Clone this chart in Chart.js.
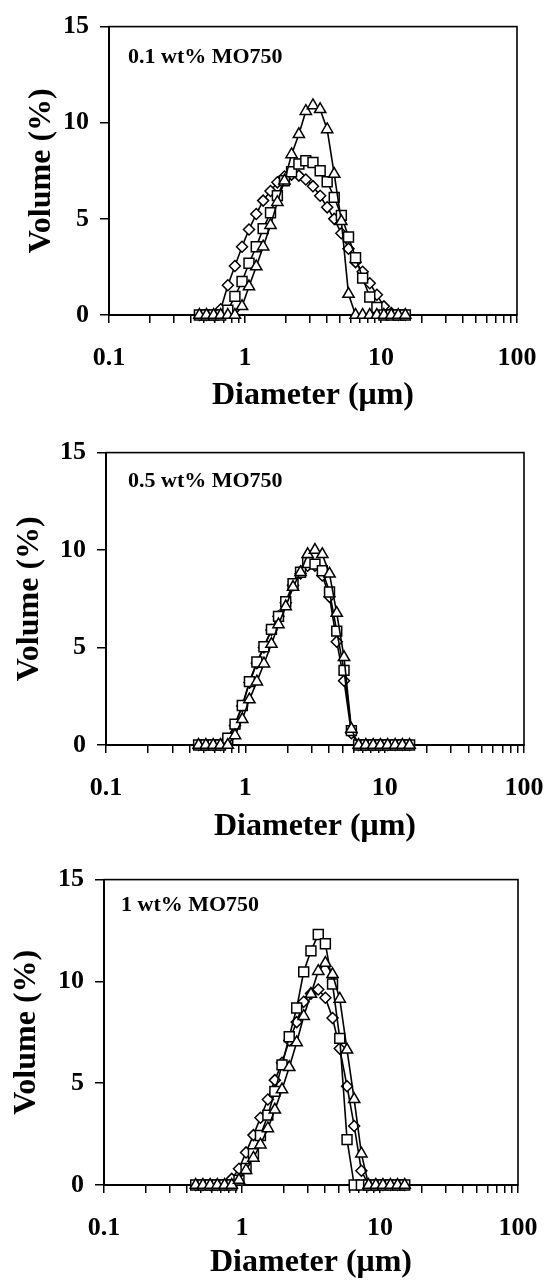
<!DOCTYPE html>
<html><head><meta charset="utf-8">
<script src="https://cdn.jsdelivr.net/npm/chart.js@4.4.1/dist/chart.umd.min.js"></script>
<style>
html,body{margin:0;padding:0;background:#fff;}
#wrap{position:relative;width:544px;height:1280px;overflow:hidden;}
canvas{position:absolute;left:0;}
</style></head><body>
<div id="wrap">
<canvas id="c1" width="544" height="426" style="top:0px"></canvas>
<canvas id="c2" width="544" height="427" style="top:426px"></canvas>
<canvas id="c3" width="544" height="427" style="top:853px"></canvas>
</div>
<script>
// ---- data ----
const diameters = [0.462,0.521,0.588,0.663,0.748,0.843,0.951,1.07,1.21,1.36,1.54,1.73,1.95,2.20,2.49,2.80,3.16,3.57,4.02,4.53,5.11,5.77,6.50,7.33,8.27,9.33,10.5,11.9,13.4,15.1];

const p1Triangles = [0,0,0,0,0,0,0.45,1.48,2.52,3.55,4.67,5.87,6.98,8.35,9.4,10.6,10.9,10.7,9.65,7.33,4.87,1.09,0,0,0,0,0,0,0,0];
const p1Squares   = [0,0,0,0,0.25,0.97,1.74,2.69,3.55,4.49,5.32,6.21,6.98,7.45,7.85,8.02,7.93,7.5,6.93,6.12,5.18,4.06,2.98,1.92,0.94,0.39,0,0,0,0];
const p1Diamonds  = [0,0,0,0.3,1.55,2.55,3.55,4.45,5.25,5.95,6.45,6.9,7.2,7.3,7.25,7.05,6.7,6.2,5.6,5.0,4.25,3.45,2.75,2.25,1.65,1.05,0.45,0.1,0,0];

const p2Triangles = [0,0,0,0,0,0.49,1.32,2.33,3.25,4.17,5.18,6.18,7.1,8.1,8.86,9.78,10.0,9.78,8.78,6.77,4.5,0.82,0,0,0,0,0,0,0,0];
const p2Squares   = [0,0,0,0,0.35,1.07,2.03,3.25,4.26,5.04,5.93,6.6,7.35,8.28,8.86,9.36,9.28,8.94,7.85,5.84,3.83,0.74,0,0,0,0,0,0,0,0];
const p2Diamonds  = [0,0,0,0,0.3,1.0,2.0,3.2,4.2,5.0,5.9,6.6,7.3,8.2,8.8,9.2,9.2,8.7,7.6,5.3,3.3,0.6,0,0,0,0,0,0,0,0];

const p3Triangles = [0,0,0,0,0,0,0.24,0.73,1.33,1.98,2.78,3.69,4.69,5.78,7.0,8.29,9.38,10.5,10.9,10.35,9.14,6.64,4.21,1.54,0,0,0,0,0,0];
const p3Squares   = [0,0,0,0,0,0,0.24,0.81,1.54,2.43,3.43,4.6,5.9,7.28,8.69,10.47,11.5,12.3,11.85,9.87,7.2,2.23,0,0,0,0,0,0,0,0];
const p3Diamonds  = [0,0,0,0,0,0.3,0.8,1.6,2.45,3.3,4.2,5.15,6.0,7.1,8.0,9.0,9.4,9.6,9.2,8.2,6.7,4.85,2.9,0.7,0,0,0,0,0,0];

const panelNotes = ['0.1 wt% MO750', '0.5 wt% MO750', '1 wt% MO750'];

const xLabelValues = [0.1, 1, 10, 100];
const xLabelTexts  = ['0.1', '1', '10', '100'];
const xMinorMultipliers = [2, 3, 4, 5, 6, 7, 8, 9];
const yTickValues  = [0, 5, 10, 15];
const xTitle = 'Diameter (\u03bcm)';
const yTitle = 'Volume (%)';

// ---- rendering ----
const FONT = "'Liberation Serif','Times New Roman',serif";
const xTickValues = [];
xLabelValues.forEach((d, i) => {
  xTickValues.push(d);
  if (i < xLabelValues.length - 1) xMinorMultipliers.forEach(m => xTickValues.push(d * m));
});

const framePlugin = {
  id: 'frame',
  beforeDatasetsDraw(chart) {
    const {ctx, chartArea: a} = chart;
    ctx.save();
    ctx.strokeStyle = '#000';
    ctx.lineWidth = 1.6;
    ctx.strokeRect(a.left, a.top, a.right - a.left, a.bottom - a.top);
    ctx.restore();
  }
};
const notePlugin = {
  id: 'note',
  afterDatasetsDraw(chart, args, opts) {
    const {ctx, chartArea: a} = chart;
    ctx.save();
    ctx.font = 'bold 22px ' + FONT;
    ctx.fillStyle = '#000';
    ctx.textBaseline = 'middle';
    ctx.textAlign = 'left';
    ctx.fillText(opts.text, a.left + opts.dx, a.top + opts.dy);
    ctx.restore();
  }
};

function makeChart(id, note, tri, sq, dia, L) {
  const pts = ys => diameters.map((x, i) => ({x: x, y: ys[i]}));
  const common = {borderColor: '#000', borderWidth: 1.6, pointBackgroundColor: '#fff',
    pointBorderColor: '#000', pointBorderWidth: 1.5, tension: 0, fill: false, clip: false};
  new Chart(document.getElementById(id), {
    type: 'line',
    data: {datasets: [
      Object.assign({}, common, {label: 'triangles', data: pts(tri), pointStyle: 'triangle', pointRadius: 6.5}),
      Object.assign({}, common, {label: 'squares', data: pts(sq), pointStyle: 'rect', pointRadius: 7}),
      Object.assign({}, common, {label: 'diamonds', data: pts(dia), pointStyle: 'rectRot', pointRadius: 5.5})
    ]},
    options: {
      responsive: false, animation: false, devicePixelRatio: 1,
      layout: {padding: {top: L.top, right: L.right, left: 0, bottom: 0}},
      plugins: {legend: {display: false}, tooltip: {enabled: false},
        note: {text: note, dx: L.noteDx, dy: L.noteDy}},
      scales: {
        x: {
          type: 'logarithmic', min: 0.1, max: 100,
          afterBuildTicks: s => { s.ticks = xTickValues.map(v => ({value: v})); },
          afterFit: s => { s.height = L.xH; },
          ticks: {autoSkip: false, maxRotation: 0, minRotation: 0, padding: 0, color: '#000',
            font: {family: FONT, weight: 'bold', size: 26, lineHeight: 2.69},
            callback: v => {
              const i = xLabelValues.findIndex(t => Math.abs(t - v) < t * 1e-6);
              return i >= 0 ? xLabelTexts[i] : '';
            }},
          grid: {display: true, drawOnChartArea: false, drawTicks: true, tickLength: 8, color: '#000', lineWidth: 1.5},
          border: {display: true, color: '#000', width: 2},
          title: {display: true, text: xTitle, color: '#000',
            font: {family: FONT, weight: 'bold', size: 32, lineHeight: 1},
            padding: {top: 0, bottom: L.xTitlePad}}
        },
        y: {
          min: 0, max: 15,
          afterBuildTicks: s => { s.ticks = yTickValues.map(v => ({value: v})); },
          afterFit: s => { s.width = L.yW; },
          ticks: {padding: 11, color: '#000', font: {family: FONT, weight: 'bold', size: 26, lineHeight: 1.2},
            callback: v => String(v)},
          grid: {display: true, drawOnChartArea: false, drawTicks: true, tickLength: 9, color: '#000', lineWidth: 1.5},
          border: {display: true, color: '#000', width: 2},
          title: {display: true, text: yTitle, color: '#000',
            font: {family: FONT, weight: 'bold', size: 32, lineHeight: 1},
            padding: {top: L.yTitlePad, bottom: 0}}
        }
      }
    },
    plugins: [framePlugin, notePlugin]
  });
}

makeChart('c1', panelNotes[0], p1Triangles, p1Squares, p1Diamonds,
  {top: 24, right: 27, yW: 109, xH: 111, xTitlePad: 14, yTitlePad: 26, noteDx: 19, noteDy: 31});
makeChart('c2', panelNotes[1], p2Triangles, p2Squares, p2Diamonds,
  {top: 19, right: 20, yW: 106, xH: 108, xTitlePad: 10, yTitlePad: 14, noteDx: 22, noteDy: 29});
makeChart('c3', panelNotes[2], p3Triangles, p3Squares, p3Diamonds,
  {top: 23, right: 26, yW: 104, xH: 95, xTitlePad: 1, yTitlePad: 11, noteDx: 17, noteDy: 26});
</script>
</body></html>
